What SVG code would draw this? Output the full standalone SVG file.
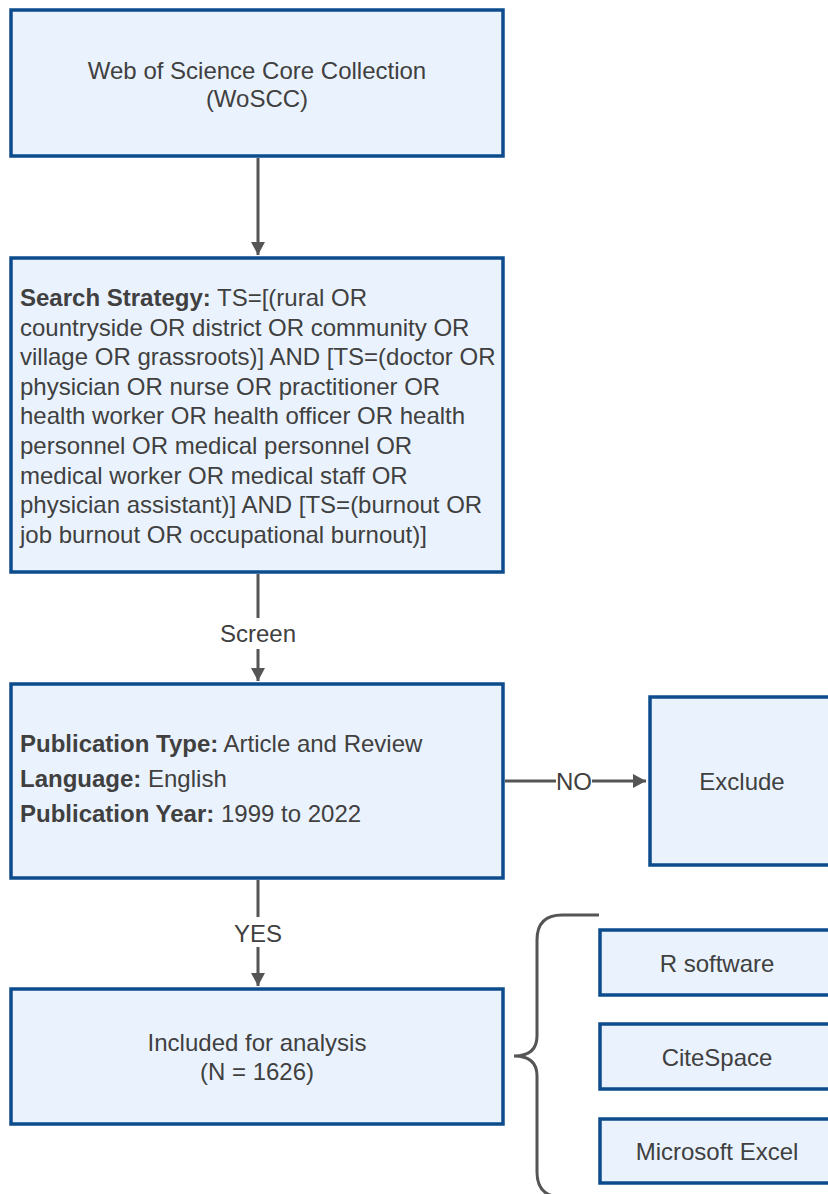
<svg xmlns="http://www.w3.org/2000/svg" width="828" height="1194" viewBox="0 0 828 1194">
  <style>
    .box { fill: #eaf3fd; stroke: #0d4c8c; stroke-width: 3.5; }
    .t { font-family: "Liberation Sans", Arial, sans-serif; font-size: 24px; fill: #404040; }
    .c { text-anchor: middle; }
    .b { font-weight: bold; }
    .conn { fill: none; stroke: #555555; stroke-width: 3; }
  </style>
  <defs>
    <marker id="arr" markerUnits="userSpaceOnUse" markerWidth="16" markerHeight="16" refX="13" refY="7.5" orient="auto">
      <polygon points="0,0.5 13,7.5 0,14.5" fill="#555555"/>
    </marker>
  </defs>
  <rect width="828" height="1194" fill="#ffffff"/>

  <g id="connectors">
    <path class="conn" d="M258 158 V255" marker-end="url(#arr)"/>
    <path class="conn" d="M258 574 V618 M258 649 V681" marker-end="url(#arr)"/>
    <path class="conn" d="M258 880 V917 M258 947 V986" marker-end="url(#arr)"/>
    <path class="conn" d="M505 781 H556 M592 781 H646" marker-end="url(#arr)"/>
    <text class="t c" x="258" y="642">Screen</text>
    <text class="t c" x="258" y="942">YES</text>
    <text class="t c" x="574" y="790">NO</text>
    <path id="brace" class="conn" d="M599 915 H562 Q537 915 537 940 V1036 Q537 1056 514 1056 Q537 1056 537 1076 V1172 Q537 1197 562 1197"/>
  </g>

  <g id="wos">
    <rect class="box" x="11" y="10" width="492" height="146"/>
    <text class="t c" x="257" y="79">Web of Science Core Collection</text>
    <text class="t c" x="257" y="107">(WoSCC)</text>
  </g>

  <g id="search">
    <rect class="box" x="11" y="258" width="492" height="314"/>
    <text class="t" x="20" y="306"><tspan class="b">Search Strategy:</tspan> TS=[(rural OR</text>
    <text class="t" x="20" y="335.6">countryside OR district OR community OR</text>
    <text class="t" x="20" y="365.2">village OR grassroots)] AND [TS=(doctor OR</text>
    <text class="t" x="20" y="394.8">physician OR nurse OR practitioner OR</text>
    <text class="t" x="20" y="424.4">health worker OR health officer OR health</text>
    <text class="t" x="20" y="454">personnel OR medical personnel OR</text>
    <text class="t" x="20" y="483.6">medical worker OR medical staff OR</text>
    <text class="t" x="20" y="513.2">physician assistant)] AND [TS=(burnout OR</text>
    <text class="t" x="20" y="542.8">job burnout OR occupational burnout)]</text>
  </g>

  <g id="criteria">
    <rect class="box" x="11" y="684" width="492" height="194"/>
    <text class="t" x="20" y="752"><tspan class="b">Publication Type:</tspan> Article and Review</text>
    <text class="t" x="20" y="787"><tspan class="b">Language:</tspan> English</text>
    <text class="t" x="20" y="822"><tspan class="b">Publication Year:</tspan> 1999 to 2022</text>
  </g>

  <g id="exclude">
    <rect class="box" x="650" y="697" width="190" height="168"/>
    <text class="t c" x="742" y="790">Exclude</text>
  </g>

  <g id="included">
    <rect class="box" x="11" y="989" width="492" height="135"/>
    <text class="t c" x="257" y="1051">Included for analysis</text>
    <text class="t c" x="257" y="1080">(N = 1626)</text>
  </g>

  <g id="rsoftware">
    <rect class="box" x="600" y="930" width="240" height="65"/>
    <text class="t c" x="717" y="972">R software</text>
  </g>

  <g id="citespace">
    <rect class="box" x="600" y="1024" width="240" height="65"/>
    <text class="t c" x="717" y="1066">CiteSpace</text>
  </g>

  <g id="excel">
    <rect class="box" x="600" y="1119" width="240" height="64"/>
    <text class="t c" x="717" y="1160">Microsoft Excel</text>
  </g>
</svg>
